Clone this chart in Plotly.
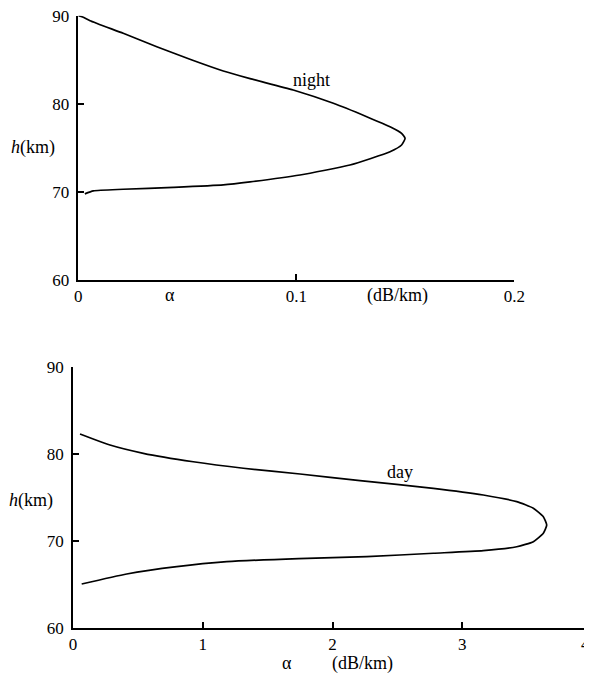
import plotly.graph_objects as go

# Night absorption profile (alpha in dB/km, h in km)
night_alpha = [0.0, 0.002, 0.0054, 0.0206, 0.036, 0.0512, 0.0665, 0.0788, 0.0986, 0.117, 0.1323, 0.143, 0.1483,
               0.1499, 0.1483, 0.143, 0.1246, 0.1017, 0.0788, 0.0665, 0.0436, 0.0206, 0.0069, 0.003]
night_h = [90.0, 89.85, 89.43, 88.0, 86.48, 85.05, 83.72, 82.85, 81.57, 80.06, 78.54, 77.4, 76.65,
           76.08, 75.32, 74.56, 73.05, 71.92, 71.14, 70.8, 70.52, 70.3, 70.12, 69.78]

# Day absorption profile
day_alpha = [0.054, 0.285, 0.542, 0.927, 1.313, 1.75, 2.212, 2.777, 3.162, 3.42, 3.548, 3.625, 3.651,
             3.625, 3.548, 3.42, 3.162, 2.777, 2.264, 1.74, 1.185, 0.80, 0.414, 0.067]
day_h = [82.3, 81.03, 80.08, 79.11, 78.36, 77.7, 76.93, 76.06, 75.29, 74.52, 73.76, 72.79, 71.84,
         70.89, 69.92, 69.34, 68.89, 68.59, 68.2, 67.98, 67.62, 67.05, 66.21, 65.06]

top_xticks = [0, 0.1, 0.2]
top_xticklabels = ["0", "0.1", "0.2"]
bot_xticks = [0, 1, 2, 3, 4]
bot_xticklabels = ["0", "1", "2", "3", ""]   # "4" drawn as an edge-aligned label below
bot_last_label = "4"
y_ticks = [60, 70, 80, 90]

OFF = 8  # page body margin in the browser
W, H = 592 - OFF, 674 - OFF
FONT = "Liberation Serif"


def px_x(p):
    return (p - OFF) / W


def px_y(p):
    return 1 - (p - OFF) / H


fig = go.Figure()
fig.add_trace(go.Scatter(x=night_alpha, y=night_h, mode="lines",
                         line=dict(color="black", width=1.7, shape="spline", smoothing=0.5),
                         xaxis="x", yaxis="y", showlegend=False, hoverinfo="skip"))
fig.add_trace(go.Scatter(x=day_alpha, y=day_h, mode="lines",
                         line=dict(color="black", width=1.7, shape="spline", smoothing=0.5),
                         xaxis="x2", yaxis="y2", showlegend=False, hoverinfo="skip"))

axcommon = dict(showline=True, linecolor="black", linewidth=1.5, showgrid=False, zeroline=False,
                ticks="inside", ticklen=6, tickcolor="black", tickwidth=1.5, mirror=False,
                automargin=False, fixedrange=True, ticklabeloverflow="allow",
                tickfont=dict(family=FONT, size=17, color="black"))

fig.update_layout(
    width=W, height=H,
    margin=dict(l=0, r=0, t=0, b=0, autoexpand=False),
    paper_bgcolor="white", plot_bgcolor="white",
    xaxis=dict(domain=[px_x(78.3), px_x(514.3)], range=[0, 0.2], anchor="y",
               tickvals=top_xticks, ticktext=top_xticklabels, **axcommon),
    yaxis=dict(domain=[px_y(280), px_y(15.7)], range=[60, 90], anchor="x",
               tickvals=y_ticks, ticklabelstandoff=4, **axcommon),
    xaxis2=dict(domain=[px_x(73), 1.0], range=[0, 4], anchor="y2",
                tickvals=bot_xticks, ticktext=bot_xticklabels, **axcommon),
    yaxis2=dict(domain=[px_y(628), px_y(367)], range=[60, 90], anchor="x2",
                tickvals=y_ticks, ticklabelstandoff=4, **axcommon),
)

tf = dict(family=FONT, size=18, color="black")
annots = [
    dict(text="α", x=0.0422, xref="x", y=px_y(295), yref="paper"),
    dict(text="(dB/km)", x=0.1462, xref="x", y=px_y(295), yref="paper"),
    dict(text="<i>h</i>(km)", x=px_x(33), xref="paper", y=px_y(147), yref="paper"),
    dict(text="night", x=0.107, xref="x", y=82.7, yref="y"),
    dict(text="α", x=1.65, xref="x2", y=px_y(663), yref="paper"),
    dict(text="(dB/km)", x=2.23, xref="x2", y=px_y(663), yref="paper"),
    dict(text="<i>h</i>(km)", x=px_x(31), xref="paper", y=px_y(500), yref="paper"),
    dict(text="day", x=2.52, xref="x2", y=77.97, yref="y2"),
]
for a in annots:
    fig.add_annotation(showarrow=False, font=tf, xanchor="center", yanchor="middle", **a)

fig.add_annotation(text=bot_last_label, x=bot_xticks[-1], xref="x2", y=px_y(644), yref="paper",
                   showarrow=False, xanchor="right", yanchor="middle",
                   font=dict(family=FONT, size=17, color="black"))

fig.write_html("out.html")
